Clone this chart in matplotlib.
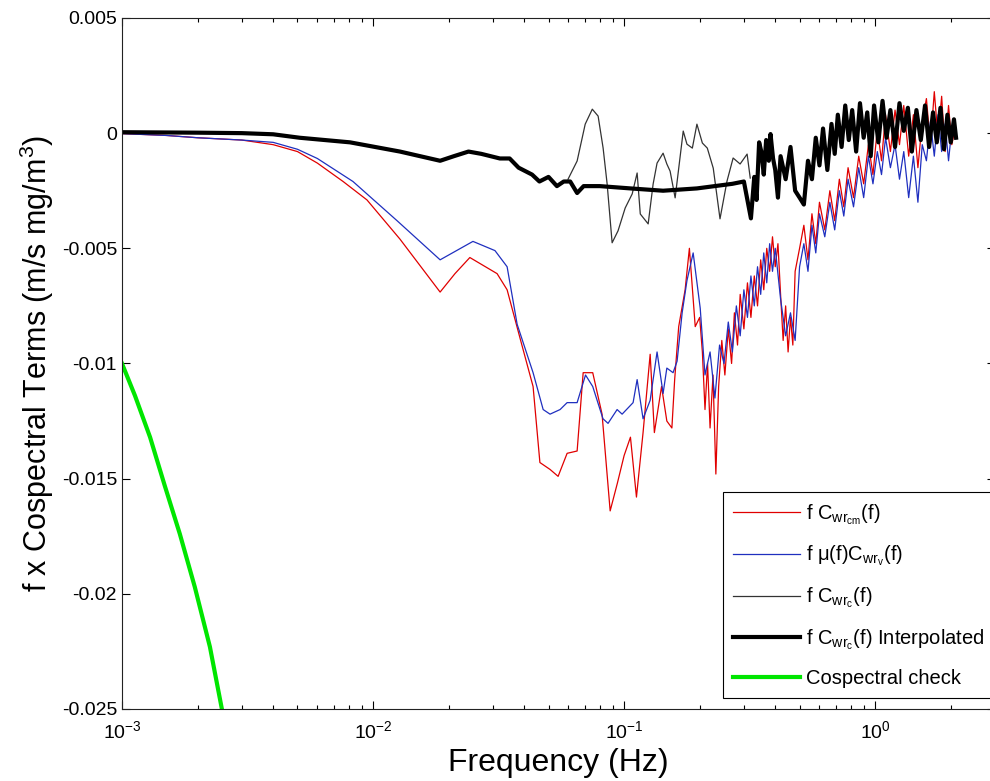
import matplotlib
matplotlib.use("Agg")
import matplotlib.pyplot as plt
from matplotlib.ticker import FuncFormatter, LogLocator

plt.rcParams['font.family'] = ['Liberation Sans', 'DejaVu Sans']
plt.rcParams['mathtext.fontset'] = 'custom'
plt.rcParams['mathtext.rm'] = 'Liberation Sans'
plt.rcParams['mathtext.it'] = 'Liberation Sans:italic'

# ---- data (frequency in Hz, value in m/s mg/m^3) ----
check_f = [1.0e-3, 1.127e-3, 1.294e-3, 1.48e-3, 1.70e-3, 1.95e-3, 2.24e-3, 2.50e-3, 2.84e-3]
check_v = [-0.0100, -0.0114, -0.0132, -0.0153, -0.0174, -0.0197, -0.0223, -0.0250, -0.0283]

red_f = [1.0e-3, 1.5e-3, 2e-3, 3e-3, 4e-3, 5e-3, 6e-3, 7.6e-3, 9.46e-3, 0.0128, 0.0185, 0.0212,
         0.0243, 0.0312, 0.0342, 0.0385, 0.0434, 0.0462, 0.0507, 0.0546, 0.0593, 0.065, 0.0687,
         0.075, 0.0817, 0.088, 0.094, 0.100, 0.106, 0.112, 0.119, 0.127, 0.132, 0.141, 0.148,
         0.155, 0.159, 0.165, 0.175, 0.182, 0.192, 0.200,
         0.205, 0.21, 0.215, 0.22, 0.226, 0.232, 0.238, 0.245, 0.252, 0.26, 0.268, 0.275, 0.283,
         0.29, 0.30, 0.31, 0.32, 0.33, 0.34, 0.35, 0.36, 0.37, 0.38, 0.39, 0.40, 0.41, 0.42, 0.43,
         0.44, 0.45, 0.46, 0.47, 0.48, 0.50, 0.52, 0.54, 0.56, 0.58, 0.60, 0.63, 0.66, 0.69, 0.72,
         0.75, 0.78, 0.82, 0.86, 0.90, 0.94, 0.98, 1.02, 1.06, 1.10, 1.15, 1.20, 1.25, 1.30, 1.36,
         1.42, 1.48, 1.54, 1.60, 1.66, 1.72, 1.78, 1.84, 1.90, 1.96, 2.02, 2.08]
red_v = [-0.00002, -0.0001, -0.0002, -0.0003, -0.0005, -0.0008, -0.0013, -0.0021, -0.0029, -0.0046,
         -0.0069, -0.0061, -0.0054, -0.0061, -0.0068, -0.0089, -0.0110, -0.0143, -0.0146, -0.0149,
         -0.0139, -0.0138, -0.0104, -0.0104, -0.0122, -0.0164, -0.0152, -0.0140, -0.0132, -0.0158,
         -0.0130, -0.0096, -0.0130, -0.0110, -0.0125, -0.0128, -0.0107, -0.0084, -0.0068, -0.0050,
         -0.0084, -0.0080,
         -0.0095, -0.0120, -0.0100, -0.0128, -0.0105, -0.0148, -0.0110, -0.0090, -0.0105, -0.0085,
         -0.0100, -0.0078, -0.0092, -0.0070, -0.0085, -0.0065, -0.0080, -0.0062, -0.0075, -0.0055,
         -0.0068, -0.0050, -0.0060, -0.0045, -0.0058, -0.0048, -0.0070, -0.0090, -0.0075, -0.0095,
         -0.0080, -0.0092, -0.0060, -0.0050, -0.0040, -0.0055, -0.0035, -0.0048, -0.0030, -0.0042,
         -0.0025, -0.0038, -0.0020, -0.0032, -0.0015, -0.0028, -0.0010, -0.0022, -0.0005, -0.0018,
         0.0002, -0.0012, 0.0008, -0.0008, 0.0010, -0.0005, 0.0012, -0.0010, 0.0008, -0.0015,
         0.0005, 0.0015, -0.0005, 0.0018, -0.0002, 0.0016, -0.0008, 0.0012, -0.0005, 0.0002]

blue_f = [1.0e-3, 1.5e-3, 2e-3, 3e-3, 4e-3, 5e-3, 6e-3, 8.32e-3, 0.01246, 0.0185, 0.0250, 0.0306,
          0.0342, 0.0375, 0.0434, 0.0476, 0.0507, 0.0556, 0.0593, 0.065, 0.0702, 0.075, 0.0824,
          0.0863, 0.0938, 0.0982, 0.1086, 0.1127, 0.119, 0.127, 0.1353, 0.143, 0.148, 0.1567,
          0.1626, 0.1703, 0.178, 0.1884, 0.201,
          0.21, 0.22, 0.23, 0.24, 0.25, 0.26, 0.27, 0.28, 0.29, 0.30, 0.31, 0.32, 0.33, 0.34, 0.35,
          0.36, 0.37, 0.38, 0.39, 0.40, 0.42, 0.44, 0.46, 0.48, 0.50, 0.52, 0.54, 0.56, 0.58, 0.60,
          0.63, 0.66, 0.69, 0.72, 0.75, 0.78, 0.82, 0.86, 0.90, 0.94, 0.98, 1.02, 1.06, 1.10, 1.15,
          1.20, 1.25, 1.30, 1.36, 1.42, 1.48, 1.54, 1.60, 1.66, 1.72, 1.78, 1.84, 1.90, 1.96, 2.02]
blue_v = [-0.00002, -0.0001, -0.0002, -0.0003, -0.0004, -0.0007, -0.0011, -0.0021, -0.0038, -0.0055,
          -0.0047, -0.0051, -0.0058, -0.0083, -0.0104, -0.0120, -0.0122, -0.0120, -0.0117, -0.0117,
          -0.0105, -0.0110, -0.0124, -0.0126, -0.0120, -0.0122, -0.0117, -0.0107, -0.0124, -0.0116,
          -0.0095, -0.0113, -0.0102, -0.0104, -0.0099, -0.0078, -0.0064, -0.0052, -0.0076,
          -0.0105, -0.0095, -0.0115, -0.0092, -0.0100, -0.0082, -0.0095, -0.0075, -0.0088, -0.0068,
          -0.0080, -0.0062, -0.0075, -0.0058, -0.0070, -0.0052, -0.0065, -0.0048, -0.0060, -0.0050,
          -0.0072, -0.0088, -0.0078, -0.0090, -0.0058, -0.0048, -0.0060, -0.0040, -0.0052, -0.0035,
          -0.0045, -0.0030, -0.0042, -0.0025, -0.0036, -0.0020, -0.0032, -0.0015, -0.0028, -0.0010,
          -0.0022, -0.0008, -0.0018, -0.0002, -0.0015, -0.0005, -0.0020, -0.0008, -0.0028, -0.0010,
          -0.0030, -0.0005, -0.0012, 0.0005, -0.0010, 0.0008, -0.0008, 0.0004, -0.0012, 0.0002]

raw_f = [0.0598, 0.065, 0.070, 0.0747, 0.0788, 0.0825, 0.0856, 0.0896, 0.0946, 0.101, 0.1077,
         0.1127, 0.116, 0.1247, 0.1305, 0.1353, 0.143, 0.148, 0.1525, 0.1597, 0.172, 0.178, 0.187,
         0.195, 0.205, 0.2145, 0.2265, 0.241, 0.257, 0.2718, 0.2898, 0.309, 0.318]
raw_v = [-0.0020, -0.00121, 0.00039, 0.00104, 0.00074, -0.00065, -0.00221, -0.00476, -0.00424,
         -0.00325, -0.00264, -0.00173, -0.00351, -0.00394, -0.00221, -0.00130, -0.00087, -0.00134,
         -0.00165, -0.00281, 0.00009, -0.00048, -0.00065, 0.00039, -0.00043, -0.00065, -0.00152,
         -0.00372, -0.00208, -0.00108, -0.00134, -0.00091, -0.00195]

interp_f = [1.0e-3, 2e-3, 3e-3, 4e-3, 5.1e-3, 8.1e-3, 0.0128, 0.0185, 0.021, 0.024, 0.027, 0.032,
            0.035, 0.038, 0.043, 0.046, 0.050, 0.054, 0.0575, 0.061, 0.065, 0.069, 0.080, 0.106,
            0.143, 0.195, 0.270, 0.300, 0.320, 0.330, 0.337, 0.345, 0.352, 0.360, 0.368, 0.377,
            0.383, 0.392, 0.400, 0.410, 0.420, 0.440, 0.460, 0.480,
            0.50, 0.52, 0.54, 0.56, 0.58, 0.60, 0.62, 0.645, 0.67, 0.69, 0.71, 0.735, 0.76, 0.785,
            0.81, 0.84, 0.87, 0.90, 0.93, 0.96, 0.99, 1.03, 1.07, 1.11, 1.15, 1.20, 1.25, 1.30, 1.35,
            1.40, 1.46, 1.52, 1.58, 1.64, 1.70, 1.76, 1.82, 1.88, 1.94, 2.00, 2.06, 2.10]
interp_v = [0.00004, 0.00002, 0.0, -0.00005, -0.0002, -0.0004, -0.0008, -0.0012, -0.0010, -0.0008,
            -0.0009, -0.0011, -0.0011, -0.0015, -0.0018, -0.0021, -0.0019, -0.0023, -0.0021, -0.0021,
            -0.0026, -0.0023, -0.0023, -0.0024, -0.0025, -0.0024, -0.0022, -0.0021, -0.0037, -0.0019,
            -0.0029, -0.0004, -0.0008, -0.0018, -0.0003, -0.0012, -0.00004, -0.0011, -0.0016, -0.0028,
            -0.0010, -0.0020, -0.0006, -0.0025,
            -0.0028, -0.0031, -0.0012, -0.0020, -0.0002, -0.0014, 0.0002, -0.0016, 0.0004, -0.0009,
            0.0008, -0.0006, 0.0012, -0.0003, 0.0010, -0.0008, 0.0013, -0.0002, 0.0009, -0.0010,
            0.0012, -0.0004, 0.0014, -0.0002, 0.0010, -0.0006, 0.0013, 0.0001, 0.0011, -0.0008,
            0.0010, -0.0003, 0.0012, -0.0006, 0.0009, -0.0004, 0.0011, -0.0007, 0.0008, -0.0004,
            0.0006, -0.0002]

y_ticks = [0.005, 0, -0.005, -0.01, -0.015, -0.02, -0.025]

# ---- figure ----
fig = plt.figure(figsize=(9.9, 7.81), dpi=100)
ax = fig.add_axes([0.1232, 0.0922, 0.8818, 0.8848])

ax.plot(red_f, red_v, color='#e00000', lw=0.9, label=r'f C$_{\mathrm{wr}_{\mathrm{cm}}}$(f)')
ax.plot(blue_f, blue_v, color='#1f2fbf', lw=0.9, label=r'f μ(f)C$_{\mathrm{wr}_{\mathrm{v}}}$(f)')
ax.plot(raw_f, raw_v, color='#333333', lw=0.9, label=r'f C$_{\mathrm{wr}_{\mathrm{c}}}$(f)')
ax.plot(interp_f, interp_v, color='black', lw=3.0,
        label=r'f C$_{\mathrm{wr}_{\mathrm{c}}}$(f) Interpolated')
ax.plot(check_f, check_v, color='#00e600', lw=3.0, label='Cospectral check')

ax.set_xscale('log')
ax.set_xlim(1e-3, 3)
ax.set_ylim(-0.025, 0.005)
ax.set_yticks(y_ticks)
ax.yaxis.set_major_formatter(FuncFormatter(lambda v, p: '%g' % v))
ax.xaxis.set_major_locator(LogLocator(base=10, numticks=10))

ax.tick_params(which='both', direction='in', top=True, right=True, labelsize=14)
ax.tick_params(which='major', length=6, width=0.8)
ax.tick_params(which='minor', length=3, width=0.8)
ax.tick_params(axis='x', pad=8)
for s in ax.spines.values():
    s.set_linewidth(0.8)
    s.set_color('#222222')

ax.set_xlabel('Frequency (Hz)', fontsize=23, labelpad=4)
ax.set_ylabel(r'f x Cospectral Terms (m/s mg/m$^3$)', fontsize=22, labelpad=4)

leg = ax.legend(loc='upper left', bbox_to_anchor=(0.7303, 0.370), bbox_transform=fig.transFigure,
                borderaxespad=0, fontsize=14.5, handlelength=3.3, labelspacing=0.85, borderpad=0.5,
                fancybox=False, framealpha=1, edgecolor='black', handletextpad=0.3)
leg.get_frame().set_linewidth(0.8)

fig.savefig('out.png', dpi=100)
